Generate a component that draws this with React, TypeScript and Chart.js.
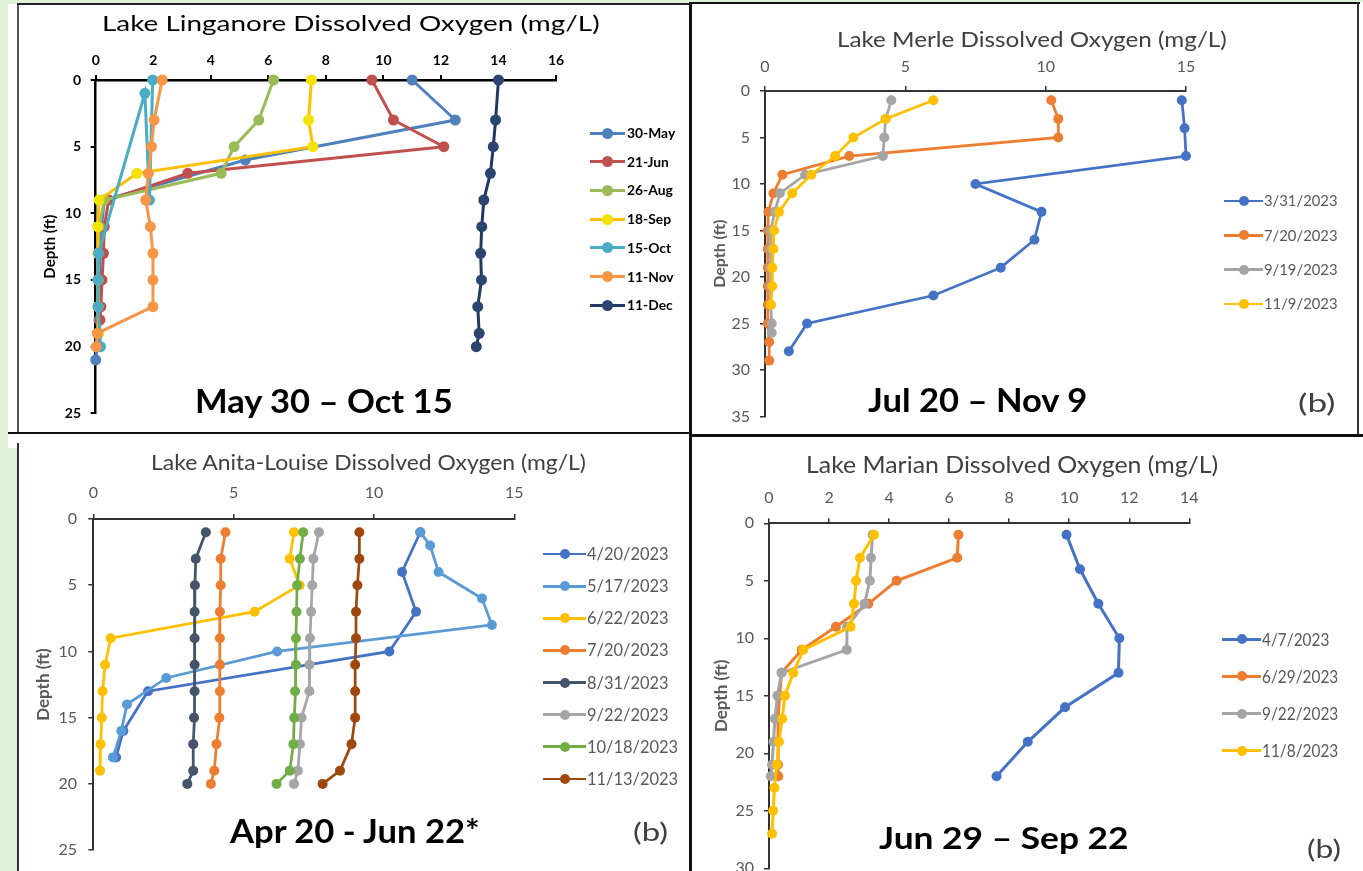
import React, { useEffect, useRef } from 'react';
import { Chart, registerables } from 'chart.js';

Chart.register(...registerables);

const FONT = "Lato, 'Open Sans', 'DejaVu Sans', sans-serif";

// ---------------- Lake Linganore ----------------
const LIN_LABELS = ['30-May', '21-Jun', '26-Aug', '18-Sep', '15-Oct', '11-Nov', '11-Dec'];
const LIN_DEPTH_30MAY = [0, 3, 6, 9, 11, 13, 15, 17, 18, 19, 21];
const LIN_DO_30MAY = [11.0, 12.5, 5.2, 0.3, 0.2, 0.15, 0.15, 0.12, 0.12, 0.1, 0.0];
const LIN_DEPTH_21JUN = [0, 3, 5, 7, 9, 11, 13, 15, 17, 18, 20];
const LIN_DO_21JUN = [9.6, 10.35, 12.1, 3.2, 0.45, 0.3, 0.27, 0.22, 0.18, 0.15, 0.12];
const LIN_DEPTH_26AUG = [0, 3, 5, 7, 9, 11, 13, 15, 17];
const LIN_DO_26AUG = [6.18, 5.67, 4.81, 4.36, 0.3, 0.12, 0.08, 0.08, 0.08];
const LIN_DEPTH_18SEP = [0, 3, 5, 7, 9, 11, 13, 15, 17, 19];
const LIN_DO_18SEP = [7.5, 7.4, 7.55, 1.43, 0.12, 0.07, 0.08, 0.08, 0.08, 0.1];
const LIN_DEPTH_15OCT = [0, 9, 1, 13, 15, 17, 20];
const LIN_DO_15OCT = [1.98, 1.87, 1.71, 0.1, 0.08, 0.08, 0.17];
const LIN_DEPTH_11NOV = [0, 3, 5, 7, 9, 11, 13, 15, 17, 19, 20];
const LIN_DO_11NOV = [2.31, 2.03, 1.94, 1.83, 1.74, 1.9, 1.99, 1.99, 1.99, 0.05, 0.02];
const LIN_DEPTH_11DEC = [0, 3, 5, 7, 9, 11, 13, 15, 17, 19, 20];
const LIN_DO_11DEC = [14.0, 13.9, 13.82, 13.72, 13.49, 13.42, 13.38, 13.41, 13.28, 13.33, 13.23];

// ---------------- Lake Merle ----------------
const MER_LABELS = ['3/31/2023', '7/20/2023', '9/19/2023', '11/9/2023'];
const MER_DEPTH_0331 = [1, 4, 7, 10, 13, 16, 19, 22, 25, 28];
const MER_DO_0331 = [14.85, 14.95, 15.0, 7.5, 9.85, 9.6, 8.4, 6.0, 1.5, 0.85];
const MER_DEPTH_0720 = [1, 3, 5, 7, 9, 11, 13, 15, 17, 19, 21, 23, 25, 27, 29];
const MER_DO_0720 = [10.2, 10.45, 10.45, 3.0, 0.62, 0.3, 0.12, 0.1, 0.1, 0.1, 0.1, 0.1, 0.1, 0.15, 0.15];
const MER_DEPTH_0919 = [1, 3, 5, 7, 9, 11, 13, 15, 17, 19, 21, 23, 25, 26];
const MER_DO_0919 = [4.5, 4.3, 4.25, 4.2, 1.43, 0.53, 0.35, 0.2, 0.2, 0.2, 0.2, 0.2, 0.24, 0.24];
const MER_DEPTH_1109 = [1, 3, 5, 7, 9, 11, 13, 15, 17, 19, 21, 23];
const MER_DO_1109 = [6.0, 4.3, 3.15, 2.5, 1.65, 0.97, 0.5, 0.32, 0.3, 0.26, 0.26, 0.21];

// ---------------- Lake Anita-Louise ----------------
const ANI_LABELS = ['4/20/2023', '5/17/2023', '6/22/2023', '7/20/2023', '8/31/2023', '9/22/2023', '10/18/2023', '11/13/2023'];
const ANI_DEPTH_0420 = [1, 4, 7, 10, 13, 16, 18];
const ANI_DO_0420 = [11.65, 11.0, 11.5, 10.55, 1.95, 1.07, 0.81];
const ANI_DEPTH_0517 = [1, 2, 4, 6, 8, 10, 12, 14, 16, 18];
const ANI_DO_0517 = [11.65, 12.0, 12.3, 13.85, 14.2, 6.55, 2.6, 1.2, 1.0, 0.7];
const ANI_DEPTH_0622 = [1, 3, 5, 7, 9, 11, 13, 15, 17, 19];
const ANI_DO_0622 = [7.15, 7.0, 7.35, 5.75, 0.62, 0.42, 0.33, 0.3, 0.26, 0.24];
const ANI_DEPTH_FULL = [1, 3, 5, 7, 9, 11, 13, 15, 17, 19, 20];
const ANI_DO_0720 = [4.71, 4.54, 4.54, 4.51, 4.51, 4.51, 4.51, 4.49, 4.39, 4.31, 4.19];
const ANI_DO_0831 = [4.01, 3.65, 3.62, 3.61, 3.61, 3.61, 3.61, 3.59, 3.56, 3.56, 3.35];
const ANI_DO_0922 = [8.04, 7.84, 7.8, 7.76, 7.72, 7.7, 7.7, 7.42, 7.36, 7.29, 7.15];
const ANI_DO_1018 = [7.48, 7.36, 7.26, 7.24, 7.22, 7.22, 7.19, 7.16, 7.13, 7.0, 6.53];
const ANI_DO_1113 = [9.48, 9.48, 9.41, 9.36, 9.36, 9.33, 9.33, 9.33, 9.2, 8.79, 8.17];

// ---------------- Lake Marian ----------------
const MAR_LABELS = ['4/7/2023', '6/29/2023', '9/22/2023', '11/8/2023'];
const MAR_DEPTH_0407 = [1, 4, 7, 10, 13, 16, 19, 22];
const MAR_DO_0407 = [9.91, 10.36, 10.97, 11.67, 11.64, 9.86, 8.62, 7.58];
const MAR_DEPTH_0629 = [1, 3, 5, 7, 9, 11, 13, 15, 17, 19, 21, 22];
const MAR_DO_0629 = [6.31, 6.27, 4.25, 3.31, 2.23, 1.09, 0.42, 0.35, 0.3, 0.3, 0.3, 0.31];
const MAR_DEPTH_0922 = [1, 3, 5, 7, 9, 11, 13, 15, 17, 19, 21, 22];
const MAR_DO_0922 = [3.45, 3.4, 3.36, 3.18, 2.6, 2.59, 0.42, 0.28, 0.2, 0.15, 0.1, 0.06];
const MAR_DEPTH_1108 = [1, 3, 5, 7, 9, 11, 13, 15, 17, 19, 21, 23, 25, 27];
const MAR_DO_1108 = [3.5, 3.03, 2.9, 2.83, 2.72, 1.14, 0.81, 0.53, 0.44, 0.33, 0.26, 0.18, 0.14, 0.1];

const Y_TITLE = 'Depth (ft)';

type Series = { label: string; depth: number[]; value: number[]; color: string; point?: string };

type TextSpec = { text: string; x0: number; x1: number; capTop: number; baseline: number };

type LegendSpec = {
  lx0: number; lx1: number; tx: number; y0: number; dy: number; capH: number; firstW: number;
  color: string; weight: string; lw: number; r: number;
};

type PanelCfg = {
  canvas: { x: number; y: number; w: number; h: number };
  area: { l: number; t: number; r: number; b: number };
  xMax: number; xStep: number; yMax: number; yStep: number;
  tickSize: number; tickWeight: string; tickColor: string;
  axisColor: string; axisWidth: number; tickWidth: number;
  xLabelY: number; yLabelRight: number;
  yTitleSize: number; yTitleColor: string; yTitleX: number;
  lineWidth: number; pointRadius: number;
  series: Series[];
  title: TextSpec & { color: string; weight: string };
  caption: TextSpec;
  tag: TextSpec | null;
  legend: LegendSpec;
};

const PANELS: PanelCfg[] = [
  {
    canvas: { x: 17, y: 4, w: 673, h: 429 },
    area: { l: 95.7, t: 80, r: 556, b: 413.3 },
    xMax: 16, xStep: 2, yMax: 25, yStep: 5,
    tickSize: 14, tickWeight: 'bold', tickColor: '#000',
    axisColor: '#000', axisWidth: 2.5, tickWidth: 2,
    xLabelY: 60, yLabelRight: 81,
    yTitleSize: 15, yTitleColor: '#000', yTitleX: 50,
    lineWidth: 3, pointRadius: 5.5,
    series: [
      { label: LIN_LABELS[0], depth: LIN_DEPTH_30MAY, value: LIN_DO_30MAY, color: '#4F81BD' },
      { label: LIN_LABELS[1], depth: LIN_DEPTH_21JUN, value: LIN_DO_21JUN, color: '#C0504D' },
      { label: LIN_LABELS[2], depth: LIN_DEPTH_26AUG, value: LIN_DO_26AUG, color: '#9BBB59' },
      { label: LIN_LABELS[3], depth: LIN_DEPTH_18SEP, value: LIN_DO_18SEP, color: '#FFC000', point: '#F4E300' },
      { label: LIN_LABELS[4], depth: LIN_DEPTH_15OCT, value: LIN_DO_15OCT, color: '#4BACC6' },
      { label: LIN_LABELS[5], depth: LIN_DEPTH_11NOV, value: LIN_DO_11NOV, color: '#F79646' },
      { label: LIN_LABELS[6], depth: LIN_DEPTH_11DEC, value: LIN_DO_11DEC, color: '#1F3864', point: '#2B4470' },
    ],
    title: { text: 'Lake Linganore Dissolved Oxygen (mg/L)', x0: 105, x1: 599, capTop: 15, baseline: 31, color: '#000', weight: 'normal' },
    caption: { text: 'May 30 – Oct 15', x0: 197, x1: 452, capTop: 390, baseline: 413 },
    tag: null,
    legend: { lx0: 590, lx1: 625, tx: 627, y0: 133, dy: 28.7, capH: 10, firstW: 49, color: '#000', weight: 'bold', lw: 3, r: 5.5 },
  },
  {
    canvas: { x: 690, y: 3, w: 673, h: 433 },
    area: { l: 765, t: 91, r: 1186, b: 422 },
    xMax: 15, xStep: 5, yMax: 35, yStep: 5,
    tickSize: 16, tickWeight: 'normal', tickColor: '#595959',
    axisColor: '#333', axisWidth: 2, tickWidth: 1.5,
    xLabelY: 67, yLabelRight: 750,
    yTitleSize: 16, yTitleColor: '#595959', yTitleX: 720,
    lineWidth: 2.75, pointRadius: 5,
    series: [
      { label: MER_LABELS[0], depth: MER_DEPTH_0331, value: MER_DO_0331, color: '#4472C4' },
      { label: MER_LABELS[1], depth: MER_DEPTH_0720, value: MER_DO_0720, color: '#ED7D31' },
      { label: MER_LABELS[2], depth: MER_DEPTH_0919, value: MER_DO_0919, color: '#A5A5A5' },
      { label: MER_LABELS[3], depth: MER_DEPTH_1109, value: MER_DO_1109, color: '#FFC000' },
    ],
    title: { text: 'Lake Merle Dissolved Oxygen (mg/L)', x0: 838, x1: 1226, capTop: 31.7, baseline: 46.7, color: '#404040', weight: 'normal' },
    caption: { text: 'Jul 20 – Nov 9', x0: 868, x1: 1087, capTop: 388, baseline: 412 },
    tag: { text: '(b)', x0: 1299, x1: 1334, capTop: 393, baseline: 411.5 },
    legend: { lx0: 1224, lx1: 1263, tx: 1264, y0: 201, dy: 34.3, capH: 10.7, firstW: 73, color: '#595959', weight: 'normal', lw: 2.75, r: 5 },
  },
  {
    canvas: { x: 17, y: 433, w: 673, h: 438 },
    area: { l: 93.3, t: 519, r: 514.3, b: 858.3 },
    xMax: 15, xStep: 5, yMax: 25, yStep: 5,
    tickSize: 16, tickWeight: 'normal', tickColor: '#595959',
    axisColor: '#333', axisWidth: 2, tickWidth: 1.5,
    xLabelY: 493, yLabelRight: 77,
    yTitleSize: 17, yTitleColor: '#595959', yTitleX: 44,
    lineWidth: 2.75, pointRadius: 5,
    series: [
      { label: ANI_LABELS[0], depth: ANI_DEPTH_0420, value: ANI_DO_0420, color: '#4472C4' },
      { label: ANI_LABELS[1], depth: ANI_DEPTH_0517, value: ANI_DO_0517, color: '#5B9BD5' },
      { label: ANI_LABELS[2], depth: ANI_DEPTH_0622, value: ANI_DO_0622, color: '#FFC000' },
      { label: ANI_LABELS[3], depth: ANI_DEPTH_FULL, value: ANI_DO_0720, color: '#ED7D31' },
      { label: ANI_LABELS[4], depth: ANI_DEPTH_FULL, value: ANI_DO_0831, color: '#44546A' },
      { label: ANI_LABELS[5], depth: ANI_DEPTH_FULL, value: ANI_DO_0922, color: '#A5A5A5' },
      { label: ANI_LABELS[6], depth: ANI_DEPTH_FULL, value: ANI_DO_1018, color: '#70AD47' },
      { label: ANI_LABELS[7], depth: ANI_DEPTH_FULL, value: ANI_DO_1113, color: '#9E480E' },
    ],
    title: { text: 'Lake Anita-Louise Dissolved Oxygen (mg/L)', x0: 152, x1: 586, capTop: 455, baseline: 470, color: '#404040', weight: 'normal' },
    caption: { text: 'Apr 20 - Jun 22*', x0: 229, x1: 480, capTop: 820, baseline: 843 },
    tag: { text: '(b)', x0: 634, x1: 667, capTop: 822.7, baseline: 840.7 },
    legend: { lx0: 543, lx1: 586, tx: 587, y0: 554, dy: 32.14, capH: 12, firstW: 81, color: '#595959', weight: 'normal', lw: 2.75, r: 5 },
  },
  {
    canvas: { x: 690, y: 436, w: 673, h: 460 },
    area: { l: 769, t: 523.3, r: 1189.3, b: 868.3 },
    xMax: 14, xStep: 2, yMax: 30, yStep: 5,
    tickSize: 16, tickWeight: 'normal', tickColor: '#595959',
    axisColor: '#333', axisWidth: 2, tickWidth: 1.5,
    xLabelY: 498, yLabelRight: 754,
    yTitleSize: 17, yTitleColor: '#595959', yTitleX: 722,
    lineWidth: 3, pointRadius: 5,
    series: [
      { label: MAR_LABELS[0], depth: MAR_DEPTH_0407, value: MAR_DO_0407, color: '#4472C4' },
      { label: MAR_LABELS[1], depth: MAR_DEPTH_0629, value: MAR_DO_0629, color: '#ED7D31' },
      { label: MAR_LABELS[2], depth: MAR_DEPTH_0922, value: MAR_DO_0922, color: '#A5A5A5' },
      { label: MAR_LABELS[3], depth: MAR_DEPTH_1108, value: MAR_DO_1108, color: '#FFC000' },
    ],
    title: { text: 'Lake Marian Dissolved Oxygen (mg/L)', x0: 808, x1: 1218, capTop: 456.7, baseline: 473.3, color: '#404040', weight: 'normal' },
    caption: { text: 'Jun 29 – Sep 22', x0: 879, x1: 1128, capTop: 827, baseline: 849 },
    tag: { text: '(b)', x0: 1308, x1: 1340, capTop: 840.7, baseline: 858.3 },
    legend: { lx0: 1222, lx1: 1261, tx: 1262, y0: 639, dy: 37.3, capH: 13, firstW: 67, color: '#595959', weight: 'normal', lw: 3, r: 5 },
  },
];

// ---------------- text measuring helpers ----------------
let measureCtx: CanvasRenderingContext2D | null = null;
function measure(text: string, weight: string, size: number) {
  if (!measureCtx) measureCtx = document.createElement('canvas').getContext('2d');
  const ctx = measureCtx as CanvasRenderingContext2D;
  ctx.font = `${weight} ${size}px ${FONT}`;
  return ctx.measureText(text);
}
function sizeForCap(weight: string, capH: number) {
  const m = measure('H', weight, 100);
  return (capH / m.actualBoundingBoxAscent) * 100;
}

function Txt(props: { text: string; weight: string; color: string; fs: number; sx: number; originX: number; baseline: number }) {
  const { text, weight, color, fs, sx, originX, baseline } = props;
  const m = measure(text, weight, fs);
  const asc = m.fontBoundingBoxAscent;
  const desc = m.fontBoundingBoxDescent;
  return (
    <div
      style={{
        position: 'absolute', left: originX, top: baseline - asc, height: asc + desc,
        fontFamily: FONT, fontWeight: weight as any, fontSize: fs, lineHeight: `${asc + desc}px`,
        color, whiteSpace: 'nowrap', transform: `scaleX(${sx})`, transformOrigin: '0 0',
      }}
    >
      {text}
    </div>
  );
}

function FitText(props: { spec: TextSpec; weight: string; color: string }) {
  const { spec, weight, color } = props;
  const fs = sizeForCap(weight, spec.baseline - spec.capTop);
  const m = measure(spec.text, weight, fs);
  const ink = m.actualBoundingBoxLeft + m.actualBoundingBoxRight;
  const sx = (spec.x1 - spec.x0) / ink;
  const originX = spec.x0 + m.actualBoundingBoxLeft * sx;
  return <Txt text={spec.text} weight={weight} color={color} fs={fs} sx={sx} originX={originX} baseline={spec.baseline} />;
}

function Legend({ cfg }: { cfg: PanelCfg }) {
  const lg = cfg.legend;
  const fs = sizeForCap(lg.weight, lg.capH);
  const m0 = measure(cfg.series[0].label, lg.weight, fs);
  const sx = lg.firstW / (m0.actualBoundingBoxLeft + m0.actualBoundingBoxRight);
  return (
    <>
      {cfg.series.map((s, i) => {
        const cy = lg.y0 + i * lg.dy;
        const cx = (lg.lx0 + lg.lx1) / 2;
        return (
          <React.Fragment key={s.label}>
            <div style={{ position: 'absolute', left: lg.lx0, top: cy - lg.lw / 2, width: lg.lx1 - lg.lx0, height: lg.lw, background: s.color }} />
            <div style={{ position: 'absolute', left: cx - lg.r, top: cy - lg.r, width: lg.r * 2, height: lg.r * 2, borderRadius: '50%', background: s.point ?? s.color }} />
            <Txt text={s.label} weight={lg.weight} color={lg.color} fs={fs} sx={sx} originX={lg.tx} baseline={cy + lg.capH / 2} />
          </React.Fragment>
        );
      })}
    </>
  );
}

function ChartPanel({ cfg }: { cfg: PanelCfg }) {
  const ref = useRef<HTMLCanvasElement>(null);
  useEffect(() => {
    const c = cfg;
    const cw = c.canvas.w;
    const ch = c.canvas.h;
    const L = c.area.l - c.canvas.x;
    const T = c.area.t - c.canvas.y;
    const R = c.area.r - c.canvas.x;
    const B = c.area.b - c.canvas.y;
    const tickLen = 5;
    const tickLH = c.tickSize * 1.2;
    const titleLH = c.yTitleSize * 1.2;
    const n = c.series.length;
    const tickFont = { family: FONT, size: c.tickSize, weight: c.tickWeight as any };
    const grid = { display: true, drawOnChartArea: false, drawTicks: true, tickLength: tickLen, color: c.axisColor, lineWidth: c.tickWidth };
    const border = { display: true, color: c.axisColor, width: c.axisWidth };
    const chart = new Chart(ref.current as HTMLCanvasElement, {
      type: 'scatter',
      data: {
        datasets: c.series.map((s, i) => ({
          label: s.label,
          data: s.depth.map((d, j) => ({ x: s.value[j], y: d })),
          showLine: true,
          borderColor: s.color,
          backgroundColor: s.point ?? s.color,
          pointBackgroundColor: s.point ?? s.color,
          pointBorderColor: s.point ?? s.color,
          pointBorderWidth: 0,
          pointRadius: c.pointRadius,
          borderWidth: c.lineWidth,
          tension: 0,
          clip: false as any,
          order: n - i,
        })),
      },
      options: {
        animation: false,
        responsive: false,
        devicePixelRatio: 1,
        events: [],
        layout: { padding: { left: 0, top: 0, right: cw - R, bottom: ch - B } },
        plugins: { legend: { display: false }, tooltip: { enabled: false }, title: { display: false } },
        scales: {
          x: {
            type: 'linear', position: 'top', min: 0, max: c.xMax,
            ticks: { stepSize: c.xStep, font: tickFont, color: c.tickColor, padding: c.area.t - c.xLabelY - tickLen - tickLH / 2, autoSkip: false, maxRotation: 0 },
            grid, border,
            afterFit: (s: any) => { s.height = T; },
          },
          y: {
            type: 'linear', position: 'left', reverse: true, min: 0, max: c.yMax,
            ticks: { stepSize: c.yStep, font: tickFont, color: c.tickColor, padding: c.area.l - c.yLabelRight - tickLen, autoSkip: false },
            grid, border,
            title: {
              display: true, text: Y_TITLE, color: c.yTitleColor,
              font: { family: FONT, size: c.yTitleSize, weight: 'bold' },
              padding: { top: c.yTitleX - c.canvas.x - titleLH / 2, bottom: 0 },
            },
            afterFit: (s: any) => { s.width = L; },
          },
        },
      } as any,
    });
    return () => chart.destroy();
  }, [cfg]);
  return (
    <canvas
      ref={ref}
      width={cfg.canvas.w}
      height={cfg.canvas.h}
      style={{ position: 'absolute', left: cfg.canvas.x, top: cfg.canvas.y, width: cfg.canvas.w, height: cfg.canvas.h }}
    />
  );
}

function Box(props: { x: number; y: number; w: number; h: number; c: string }) {
  return <div style={{ position: 'absolute', left: props.x, top: props.y, width: props.w, height: props.h, background: props.c }} />;
}

export default function App() {
  return (
    <div style={{ position: 'fixed', left: 0, top: 0, width: 1363, height: 871, background: '#DFF2D7', overflow: 'hidden' }}>
      {/* panel backgrounds */}
      <Box x={8} y={4} w={682} h={429} c="#fff" />
      <Box x={690} y={2} w={673} h={434} c="#fff" />
      <Box x={8} y={433} w={682} h={15} c="#fff" />
      <Box x={17} y={448} w={673} h={423} c="#fff" />
      <Box x={690} y={436} w={673} h={435} c="#fff" />

      {PANELS.map((p, i) => (
        <ChartPanel key={i} cfg={p} />
      ))}

      {/* panel frames */}
      <Box x={16.5} y={4} w={2} h={429} c="#555" />
      <Box x={17} y={3} w={673} h={2} c="#222" />
      <Box x={690} y={2} w={670} h={2} c="#111" />
      <Box x={689} y={2} w={2.5} h={869} c="#111" />
      <Box x={1357} y={2} w={2} h={434} c="#333" />
      <Box x={690} y={434} w={673} h={3} c="#111" />
      <Box x={8} y={432} w={682} h={2} c="#111" />
      <Box x={16.5} y={443} w={2} h={428} c="#333" />

      {PANELS.map((p, i) => (
        <React.Fragment key={'t' + i}>
          <FitText spec={p.title} weight={p.title.weight} color={p.title.color} />
          <FitText spec={p.caption} weight="bold" color="#000" />
          {p.tag ? <FitText spec={p.tag} weight="normal" color="#404040" /> : null}
          <Legend cfg={p} />
        </React.Fragment>
      ))}
    </div>
  );
}
